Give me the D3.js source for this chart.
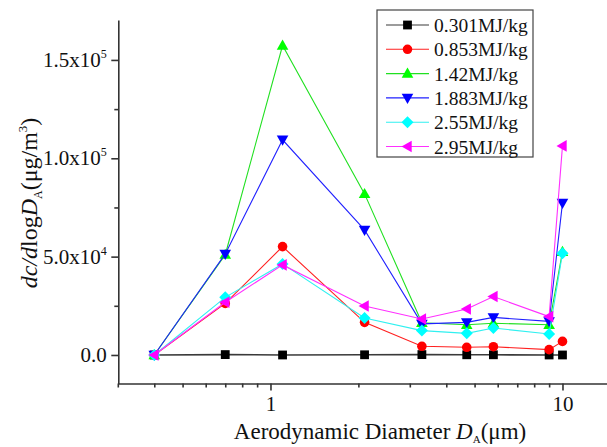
<!DOCTYPE html>
<html>
<head>
<meta charset="utf-8">
<script src="https://cdn.jsdelivr.net/npm/d3@7/dist/d3.min.js"></script>
<style>
  body { margin: 0; font-family: "Liberation Serif"; }
  text, tspan { font-family: "Liberation Serif" !important; }
</style>
</head>
<body>
<svg id="chart" width="607" height="447" font-family="Liberation Serif"></svg>
<script>
// ---- data ----
const diameters = [0.4, 0.7, 1.1, 2.1, 3.3, 4.7, 5.8, 9.0, 10];
const seriesNames = ["0.301MJ/kg", "0.853MJ/kg", "1.42MJ/kg", "1.883MJ/kg", "2.55MJ/kg", "2.95MJ/kg"];
const s0301 = [0, 200, 0, 100, 200, 100, 100, 0, 0];
const s0853 = [0, 26200, 55100, 16600, 4400, 3900, 4200, 2700, 6900];
const s142  = [0, 51000, 157300, 81900, 16400, 15400, 16100, 15400, 52500];
const s1883 = [0, 51400, 109400, 63600, 15800, 16600, 19100, 17100, 77300];
const s255  = [0, 29300, 46300, 18800, 12400, 11000, 13700, 10700, 51700];
const s295  = [0, 26800, 45800, 24900, 18300, 23400, 29700, 19500, 106300];
const yTickValues = [0, 50000, 100000, 150000];
const yTickLabels = [["0.0", ""], ["5.0x10", "4"], ["1.0x10", "5"], ["1.5x10", "5"]];
const yMinorTicks = [25000, 75000, 125000];
const xMajorTicks = [1, 10];
const xMinorTicks = [0.3, 0.4, 0.5, 0.6, 0.7, 0.8, 0.9, 2, 3, 4, 5, 6, 7, 8, 9];

const seriesValues = [s0301, s0853, s142, s1883, s255, s295];
const colors = ["#000000", "#ff0000", "#00ff00", "#0000ff", "#00ffff", "#ff00ff"];
const lineColors = ["#3a3a3a", "#ff2020", "#20e020", "#2020ff", "#30f0f0", "#ff30ff"];
const shapes = ["square", "circle", "triUp", "triDown", "diamond", "triLeft"];
const FONT = "Liberation Serif";

// ---- scales ----
const svg = d3.select("#chart");
const x = d3.scaleLog().domain([0.3, 15]).range([117.8, 613.9]);
const y = d3.scaleLinear().domain([-14500, 170300]).range([383.5, 20]);

function markerPath(shape, cx, cy) {
  const p = d3.path();
  if (shape === "square") {
    const h = 4.4; p.rect(cx - h, cy - h, 2 * h, 2 * h);
  } else if (shape === "circle") {
    p.arc(cx, cy, 4.8, 0, 2 * Math.PI);
  } else if (shape === "triUp") {
    p.moveTo(cx, cy - 6); p.lineTo(cx + 5.8, cy + 4.2); p.lineTo(cx - 5.8, cy + 4.2); p.closePath();
  } else if (shape === "triDown") {
    p.moveTo(cx, cy + 6); p.lineTo(cx + 5.8, cy - 4.2); p.lineTo(cx - 5.8, cy - 4.2); p.closePath();
  } else if (shape === "diamond") {
    p.moveTo(cx, cy - 6); p.lineTo(cx + 6, cy); p.lineTo(cx, cy + 6); p.lineTo(cx - 6, cy); p.closePath();
  } else if (shape === "triLeft") {
    p.moveTo(cx - 6, cy); p.lineTo(cx + 4.2, cy - 5.8); p.lineTo(cx + 4.2, cy + 5.8); p.closePath();
  }
  return p.toString();
}

// ---- axes ----
const axisColor = "#333";
const gx = svg.append("g").attr("transform", `translate(0,${y.range()[0]})`);
gx.call(d3.axisBottom(x).tickValues(xMajorTicks).tickFormat(d3.format("d")).tickSize(7).tickSizeOuter(0).tickPadding(6));
const gxm = svg.append("g").attr("transform", `translate(0,${y.range()[0]})`);
gxm.call(d3.axisBottom(x).tickValues(xMinorTicks).tickFormat("").tickSize(4).tickSizeOuter(0));
gxm.select(".domain").remove();

const gy = svg.append("g").attr("transform", `translate(${x.range()[0] + 0.5},0)`);
gy.call(d3.axisLeft(y).tickValues(yTickValues).tickFormat("").tickSize(7).tickSizeOuter(0));
const gym = svg.append("g").attr("transform", `translate(${x.range()[0] + 0.5},0)`);
gym.call(d3.axisLeft(y).tickValues(yMinorTicks).tickFormat("").tickSize(4).tickSizeOuter(0));
gym.select(".domain").remove();

svg.selectAll(".domain, .tick line").attr("stroke", axisColor).attr("stroke-width", 1.6);
svg.selectAll("g").attr("font-family", FONT);
gx.selectAll(".tick text").attr("font-family", FONT).attr("font-size", 21).attr("fill", "#111");

// y tick labels with superscripts
const yl = svg.append("g");
yTickValues.forEach((v, i) => {
  const t = yl.append("text")
    .attr("x", x.range()[0] - 11)
    .attr("y", y(v) + 7)
    .attr("text-anchor", "end")
    .attr("font-family", FONT).attr("font-size", 21)
    .attr("fill", "#111");
  t.append("tspan").text(yTickLabels[i][0]);
  if (yTickLabels[i][1]) {
    t.append("tspan").attr("dy", -9).attr("font-size", 12).text(yTickLabels[i][1]);
  }
});

// ---- series ----
const line = d3.line().x(d => x(d[0])).y(d => y(d[1]));
seriesValues.forEach((vals, si) => {
  const pts = diameters.map((d, i) => [d, vals[i]]);
  const g = svg.append("g");
  g.append("path").attr("d", line(pts)).attr("fill", "none")
    .attr("stroke", lineColors[si]).attr("stroke-width", si === 0 ? 1.6 : 1.1);
  g.selectAll("path.m").data(pts).join("path").attr("class", "m")
    .attr("d", d => markerPath(shapes[si], x(d[0]), y(d[1])))
    .attr("fill", colors[si]);
});

// ---- legend ----
const lg = svg.append("g");
lg.append("rect").attr("x", 377).attr("y", 10).attr("width", 156).attr("height", 147)
  .attr("fill", "#fff").attr("stroke", "#444").attr("stroke-width", 1.2);
seriesNames.forEach((name, i) => {
  const ly = 25 + i * 24.3;
  lg.append("line").attr("x1", 386).attr("x2", 429).attr("y1", ly).attr("y2", ly)
    .attr("stroke", lineColors[i]).attr("stroke-width", 1.1);
  lg.append("path").attr("d", markerPath(shapes[i], 407.5, ly)).attr("fill", colors[i]);
  lg.append("text").attr("x", 434).attr("y", ly + 7)
    .attr("font-family", FONT).attr("font-size", 19.5).attr("fill", "#111").text(name);
});

// ---- axis titles ----
const xt = svg.append("text").attr("x", 380).attr("y", 439).attr("text-anchor", "middle")
  .attr("font-family", FONT).attr("font-size", 23).attr("fill", "#111");
xt.append("tspan").text("Aerodynamic Diameter ");
xt.append("tspan").attr("font-style", "italic").text("D");
xt.append("tspan").attr("dy", 4).attr("font-size", 11).text("A");
xt.append("tspan").attr("dy", -4).text("(μm)");

const yt = svg.append("text").attr("transform", "translate(37,203) rotate(-90)").attr("text-anchor", "middle")
  .attr("font-family", FONT).attr("font-size", 24).attr("fill", "#111");
yt.append("tspan").attr("font-style", "italic").text("dc/d");
yt.append("tspan").text("log");
yt.append("tspan").attr("font-style", "italic").text("D");
yt.append("tspan").attr("dy", 5).attr("font-size", 12).text("A");
yt.append("tspan").attr("dy", -5).text("(μg/m");
yt.append("tspan").attr("dy", -10).attr("font-size", 13).text("3");
yt.append("tspan").attr("dy", 10).text(")");
</script>
</body>
</html>
